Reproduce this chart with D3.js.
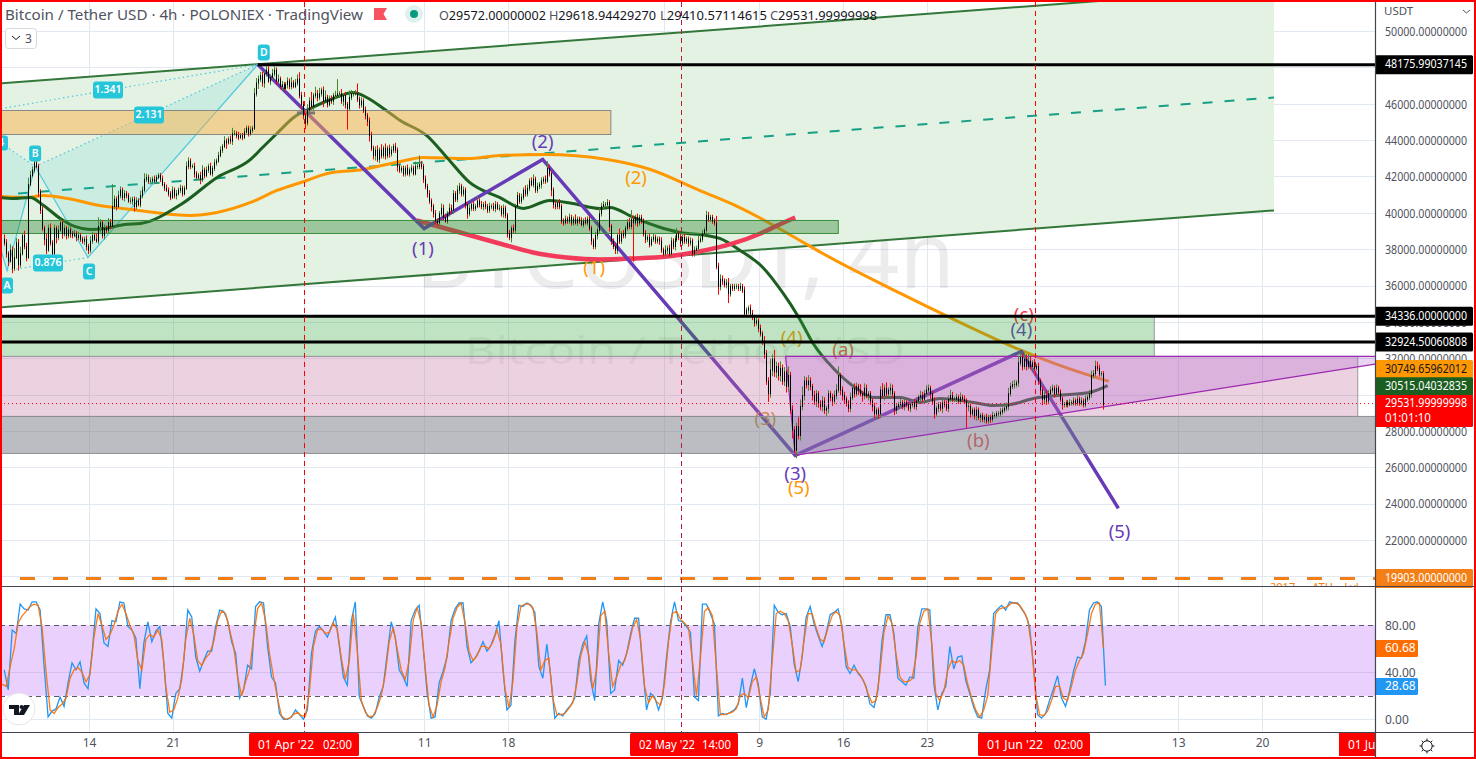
<!DOCTYPE html>
<html><head><meta charset="utf-8">
<script src="https://cdn.jsdelivr.net/npm/d3@7"></script>
<style>html,body{margin:0;padding:0;background:#fff;overflow:hidden}svg{display:block}text{font-family:"Noto Sans","Open Sans",sans-serif}</style>
</head><body><div id="c"></div>
<script>
// ---- candles: closes in hundreds of USDT, wicks in units of 60 USDT, one bar every 4h from 6 Mar 2022 22:00 ----
const closes=[
384,378,374,380,370,376,384,372,378,388,382,376,416,421,424,428,426,412,402,392,386,380,392,384,378,
392,387,391,395,389,392,388,391,389,388,389,387,388,386,385,386,382,380,385,388,386,385,393,395,388,
392,391,395,393,404,408,404,410,413,409,411,410,407,407,408,404,407,405,410,413,419,420,418,418,419,
418,420,421,419,416,414,413,411,409,413,410,411,413,414,411,414,426,429,426,426,422,420,421,419,424,
421,424,426,422,425,428,429,432,435,437,440,439,441,440,444,444,443,442,443,442,445,447,444,446,447,
466,472,474,476,472,477,479,473,475,477,479,473,474,470,471,469,471,473,470,472,470,472,474,465,460,
454,450,457,462,459,465,466,464,466,468,462,464,460,463,462,465,465,466,466,462,465,460,458,464,466,
466,466,463,460,462,457,454,451,443,436,432,435,430,435,432,436,432,436,433,435,437,435,426,424,425,
422,425,422,424,425,422,426,426,427,426,419,415,411,407,404,400,396,395,400,403,398,396,400,403,402,
411,408,413,415,411,413,405,400,403,405,403,404,407,405,404,405,404,402,404,404,403,405,403,403,400,
403,399,389,387,392,391,404,410,407,409,413,411,414,418,416,419,413,415,416,418,419,418,425,422,413,
405,404,406,404,396,395,397,396,398,395,397,395,397,396,394,396,395,397,392,385,382,388,391,400,404,
405,405,406,393,385,382,380,388,385,389,388,392,395,393,397,395,398,395,398,396,389,386,387,383,386,
387,385,386,385,380,378,380,381,378,385,382,386,389,387,384,387,385,386,384,385,378,380,381,385,386,
389,391,399,397,398,396,395,371,360,364,363,361,362,356,360,359,360,360,359,360,358,345,347,348,345,
343,340,341,337,334,330,323,308,301,314,320,313,316,311,315,308,313,305,311,292,281,270,283,278,294,
300,308,306,308,305,300,297,301,296,294,297,292,293,301,299,297,300,303,311,303,300,298,296,293,299,
304,301,305,303,301,300,304,300,301,297,294,290,292,290,303,300,304,301,303,304,301,292,294,295,296,
294,296,295,293,295,296,294,297,299,300,298,301,303,304,301,297,290,293,295,293,296,295,293,298,300,
298,298,299,297,299,298,297,294,294,290,292,289,292,288,289,287,288,286,288,287,289,289,290,290,291,
292,293,294,301,305,306,306,307,318,321,316,320,316,319,316,318,315,316,308,303,298,300,297,301,303,
304,301,304,302,298,295,295,296,295,296,296,297,296,298,296,297,295,298,299,301,311,312,316,315,312,
312,295];
const wickUp=[
4,3,2,5,3,8,4,3,6,2,4,3,6,4,3,2,3,2,2,3,2,5,3,4,2,
3,2,4,3,2,3,2,3,2,2,3,2,3,2,2,2,3,2,4,3,2,5,8,3,2,
3,2,4,3,20,3,2,4,3,2,3,2,2,3,2,2,3,2,4,3,5,3,2,3,2,
3,2,2,2,3,2,3,2,2,3,2,3,2,3,2,2,4,3,2,2,3,2,2,3,4,
2,3,2,3,2,3,2,3,3,2,4,2,2,3,5,3,2,3,2,2,3,2,2,3,2,
5,4,3,3,3,2,3,3,2,4,3,2,4,2,3,2,2,3,2,5,2,3,4,6,3,
3,2,5,3,8,2,6,3,5,2,3,6,2,3,3,2,4,13,2,4,2,3,2,6,3,
2,3,9,2,3,2,3,2,3,3,2,3,4,2,5,2,4,2,3,3,2,3,2,2,2,
2,2,3,2,3,2,4,2,8,3,2,3,2,3,2,2,3,2,2,4,3,3,2,4,3,
3,2,4,3,2,3,2,2,3,2,3,2,4,2,3,2,3,2,3,2,3,3,2,3,2,
3,2,2,3,2,3,2,3,2,3,2,4,3,2,3,4,2,3,2,3,2,3,6,3,2,
2,3,2,3,2,2,3,2,3,2,2,4,2,2,3,2,3,2,3,2,2,3,2,5,3,
3,2,3,2,2,2,3,2,6,2,3,2,3,4,8,3,2,3,2,2,2,3,2,3,2,
3,2,2,2,3,2,4,2,3,3,2,3,5,2,3,2,3,2,2,3,2,3,2,5,3,
3,2,4,3,2,2,2,6,3,4,3,2,3,4,2,2,2,2,2,3,2,3,2,2,3,
3,2,3,2,3,2,4,3,3,10,4,8,4,3,6,3,4,2,8,3,4,3,3,8,6,
8,4,3,5,3,2,4,3,2,2,4,3,2,3,2,3,4,5,8,2,3,3,2,2,4,
3,4,3,2,5,2,4,3,2,2,2,3,2,2,3,6,3,5,2,4,3,2,2,2,3,
2,3,2,2,2,3,3,3,2,4,3,3,4,3,2,2,3,2,2,2,3,2,3,3,5,
3,2,3,2,4,2,3,2,4,2,2,2,3,2,2,2,2,3,2,2,3,2,2,2,3,
2,3,3,5,3,3,4,2,6,4,3,5,4,6,4,2,3,2,3,2,3,3,5,3,3,
3,2,3,2,2,2,2,2,2,3,2,3,2,3,2,3,2,3,2,3,4,3,5,4,3,
2,2];
const wickDown=[
3,4,5,2,5,3,2,6,3,2,3,4,2,2,2,3,2,5,4,3,6,4,2,3,4,
4,6,3,2,5,3,4,3,4,3,2,4,3,3,3,4,4,4,3,3,2,2,3,6,3,
4,3,3,3,2,3,4,2,3,3,4,3,2,3,4,5,3,2,3,3,2,3,3,2,3,
2,3,2,3,2,3,2,3,3,2,3,4,2,3,3,2,2,3,3,2,4,2,3,5,3,
3,2,3,2,3,3,3,2,2,3,2,6,2,3,4,2,3,3,2,3,2,2,3,2,3,
2,3,6,3,4,5,3,2,4,3,3,4,2,3,4,3,2,4,3,3,2,2,3,3,4,
4,6,3,4,3,4,3,4,3,3,6,2,3,2,3,4,3,2,4,3,5,4,20,3,3,
3,2,3,4,3,3,4,5,6,3,4,5,3,4,3,3,4,3,4,3,3,3,5,3,3,
3,3,2,3,3,2,2,3,3,3,4,3,4,3,5,4,3,3,4,3,3,2,3,3,4,
4,3,3,4,3,3,4,5,3,3,3,3,2,3,3,4,3,3,3,3,3,4,2,3,3,
4,3,4,3,5,3,3,2,3,3,3,3,3,3,2,3,3,3,3,4,3,3,2,3,6,
4,3,3,3,3,3,2,3,3,3,3,2,3,3,2,3,2,3,3,4,3,3,4,3,3,
3,3,3,5,4,3,4,4,3,3,3,3,3,3,3,36,3,4,3,3,3,4,3,3,2,
3,3,3,4,3,3,3,4,3,3,3,4,3,3,4,3,3,3,4,3,3,3,3,3,2,
3,3,3,3,3,3,3,3,8,4,4,3,4,9,3,3,3,3,3,3,3,3,3,4,3,
3,4,3,4,3,4,5,4,8,4,6,5,6,5,6,4,5,6,5,4,8,3,8,4,5,
4,5,4,6,4,5,4,6,5,4,5,4,6,5,4,5,3,4,3,5,5,4,4,4,4,
3,4,3,5,3,6,4,3,5,4,5,4,6,5,4,3,5,3,4,5,4,5,4,3,3,
3,4,3,3,4,3,3,4,3,4,3,4,3,3,5,4,5,3,4,3,5,3,3,4,3,
3,3,3,3,3,3,3,20,5,4,3,4,5,3,5,3,4,3,3,4,3,3,3,3,3,
3,3,3,4,3,3,4,3,4,3,4,3,4,3,3,4,3,3,4,5,6,5,4,3,3,
3,4,3,3,3,5,3,3,3,2,3,3,3,3,3,3,3,3,3,3,4,3,3,3,3,
3,5];
const wickUnit=60;
// ---- stochastic RSI, one reading every 8h ----
const stochK=[
42,25,76,73,98,94,93,100,100,93,45,2,7,9,19,11,31,48,42,49,31,26,56,94,90,
65,62,84,83,100,99,79,76,69,26,65,83,66,75,79,48,5,1,22,26,50,93,87,53,41,
50,58,58,79,93,92,84,66,56,18,25,46,43,96,100,99,62,36,31,5,0,0,2,8,4,
0,8,56,75,79,75,70,79,87,62,36,29,84,100,19,11,3,1,5,19,28,56,83,70,42,
36,28,84,93,97,62,22,1,2,31,41,53,84,94,99,99,62,48,52,58,66,58,63,72,84,
42,8,12,67,97,96,99,97,91,45,35,64,36,1,5,3,8,12,18,50,64,71,33,16,81,
100,84,22,25,50,46,56,73,86,86,45,8,22,19,8,18,53,83,100,84,83,79,74,19,16,
98,98,90,81,3,5,4,6,8,13,35,10,28,43,30,2,0,22,97,91,89,90,79,47,32,
53,87,96,81,71,62,73,89,91,94,79,45,39,46,39,35,28,13,10,25,67,89,89,73,35,
32,29,36,35,79,94,94,93,30,8,22,28,62,43,53,54,33,22,10,2,1,25,42,90,94,
97,93,100,99,99,94,89,79,45,4,1,5,16,26,37,18,11,24,41,53,52,66,93,99,100,
96,28.68];
const stochD=[
30,28,45,60,82,88,92,96,98,97,78,40,8,5,10,13,18,35,42,44,40,32,38,70,90,
80,68,72,80,92,98,90,80,72,50,42,68,72,70,76,68,28,6,8,18,34,68,86,72,50,
46,52,56,66,84,92,90,76,62,36,20,32,42,70,94,99,84,56,36,18,3,0,1,4,6,
3,3,24,62,76,77,73,74,82,76,52,34,50,90,58,16,6,2,3,10,20,38,66,78,60,
42,34,50,84,95,82,44,12,2,12,32,44,66,86,95,99,82,58,50,54,62,62,60,66,76,
64,26,10,32,78,96,98,98,95,74,42,50,52,18,4,4,5,9,14,30,54,66,55,26,42,
88,92,56,28,36,46,50,62,78,85,68,28,14,20,15,12,30,66,90,92,85,82,78,50,20,
52,92,95,88,44,4,4,5,6,9,20,22,18,32,36,18,2,8,50,90,92,90,84,64,40,
42,68,90,90,78,68,66,78,88,92,88,64,44,42,42,38,32,22,14,16,40,74,88,82,56,
36,32,32,34,52,82,92,94,64,22,16,24,42,50,48,50,46,30,18,8,2,8,20,58,90,
94,95,96,99,99,97,92,85,62,22,4,3,7,16,28,28,18,16,28,42,50,56,72,90,98,
99,60.68];
// ---- moving averages: days after 14 Mar 2022, price ----
const ma200Days=[-7.4,-5.2,-3.8,-1.8,.9,2.8,4.8,8.4,10.7,13.5,15.7,18.2,19.9,22.9,26,27.9,31.6,34.3,38.1,43.3,46.9,51,53.8,56.6,59.4,61.3,67.8,71.9,77.9,81.1,85.2];
const ma200=[40925,40870,40980,40815,40430,40265,40100,39880,40045,40595,41255,41805,42190,42410,42850,43070,43015,43180,43235,42960,42410,41255,40485,39550,38505,37790,35590,34270,32455,31630,30750];
const ma50Days=[-7.4,-6.4,-4.9,-3.8,-2.4,-1.2,.1,1.3,3,4.3,7.8,10.7,13.5,14.5,15.7,17.1,18.5,20.4,22.1,23.2,24.6,26,28.2,29.9,31.8,34.3,36.3,38.5,40.4,42.7,43.5,45.5,47.5,49.4,51.6,52.7,54.4,56.3,58,59.3,60.5,62.2,64,65.5,67.8,69.4,71.1,73.9,75.5,77,78.9,80.9,83.6,85.1];
const ma50=[40870,40815,40870,40430,39715,39275,39110,39165,39385,39440,40540,41970,42960,43620,44390,45270,45765,46315,46645,46370,45765,45105,44280,43070,41695,40870,40265,40705,40540,40265,40320,39770,39275,38945,38780,38615,37955,37020,35590,34270,32840,31465,30420,29870,29870,29595,29815,29595,29430,29485,29815,29980,30145,30515];
// ---- drawings: [days after 14 Mar 2022, price] ----
const waveMajor=[[14.1,48185],[28,39165],[37.9,42960],[59,26680],[77.9,32400],[86,23765]];
const roundedArc=[[27.4,39605],[34.3,38340],[37.1,37845],[39.9,37570],[42.7,37460],[45.4,37515],[48.3,37625],[51,37900],[53.8,38340],[56.1,38890],[57.5,39330],[59,39770]];
const patX=[-10.7,45380],patA=[-6.85,36855],patB=[-4.5,42575],patC=[-.08,37570],patD=[14.1,48185];
const channelTop=[[-7.44,47140],[99,52400]];
const channelBottom=[[-7.44,34820],[99,40155]];
const channelMid=[[-5.93,41090],[99,46370]];
const triangle=[[58.2,32125],[107.8,32125],[107.8,31740],[59,26680]];
const zones=[
 {d0:-8,d1:43.6,hi:45655,lo:44335,fill:"rgba(253,178,73,.5)",edge:"#888"},
 {d0:-8,d1:62.6,hi:39605,lo:38890,fill:"rgba(50,135,50,.4)",edge:"#388e3c"},
 {d0:-8,d1:89,hi:34325,lo:32125,fill:"rgba(42,162,55,.3)",edge:"#999"},
 {d0:-8,d1:106,hi:32125,lo:28825,fill:"rgba(192,105,152,.3)",edge:"#999"},
 {d0:-8,d1:108,hi:28825,lo:26790,fill:"rgba(119,123,135,.5)",edge:"#8d8f96"}];
const priceTicks=[50000,48000,46000,44000,42000,40000,38000,36000,34000,32000,30000,28000,26000,24000,22000,20000];
const stochTicks=[80,40,0];
const timeTicks=[["2022-03-14","14"],["2022-03-21","21"],["2022-04-11","11"],["2022-04-18","18"],["2022-05-09","9"],["2022-05-16","16"],["2022-05-23","23"],["2022-06-13","13"],["2022-06-20","20"]];
const gridDays=["2022-03-14","2022-03-21","2022-04-01","2022-04-11","2022-04-18","2022-05-01","2022-05-09","2022-05-16","2022-05-23","2022-06-01","2022-06-13","2022-06-20"];
const levels=[[14.1,48175.99],[-8,34336],[-8,32924.5]];
const priceTags=[
 {v:48175.99,s:0,t:"48175.99037145",bg:"#000",fg:"#fff"},{v:34336,s:0,t:"34336.00000000",bg:"#000",fg:"#fff"},
 {v:32924.5,s:0,t:"32924.50060808",bg:"#000",fg:"#fff"},{v:30749.66,s:-12,t:"30749.65962012",bg:"#ff9800",fg:"#131722"},
 {v:30515.04,s:1,t:"30515.04032835",bg:"#1b5e20",fg:"#fff"},{v:19903,s:0,t:"19903.00000000",bg:"#f57f17",fg:"#fff"}];
const waveLabels=[
 ["(1)",27.9,37955,"#673ab7"],["(2)",37.9,43840,"#673ab7"],["(3)",59,25580,"#673ab7"],["(4)",77.9,33500,"#673ab7"],["(5)",86.1,22430,"#673ab7"],
 ["(1)",42.2,36960,"#ff9800"],["(2)",45.7,41900,"#ff9800"],["(3)",56.5,28600,"#d9903a"],["(4)",58.7,33060,"#ff9800"],["(5)",59.3,24830,"#ff9800"],
 ["(a)",63,32400,"#ef5350"],["(b)",74.3,27400,"#ef5350"],["(c)",78.1,34360,"#f23645"]];
const ratioTags=[["1.341",108,90,30],["2.131",149,115,30],["0.876",48,263,30]];
const pointTags=[["A",patA,0,15],["B",patB,0,-13],["C",patC,1,14],["D",patD,6,-12]];

const W=1476,H=759,axX=1375,paneB=586,stB=732;
const base=Date.UTC(2022,2,14);
const day=d=>new Date(base+d*864e5);
const x=d3.scaleUtc().domain([new Date("2022-03-14T00:00Z"),new Date("2022-06-20T00:00Z")]).range([89,1262]);
const y=d3.scaleLinear().domain([50000,22000]).range([31.5,540.5]);
const ys=d3.scaleLinear().domain([0,80]).range([719.3,625.3]);
const firstBar=Date.UTC(2022,2,6,22);
const X=d=>x(day(d));
const svg=d3.select("#c").append("svg").attr("width",W).attr("height",H).attr("viewBox",`0 0 ${W} ${H}`);
const defs=svg.append("defs");
defs.append("clipPath").attr("id","cp").append("rect").attr("x",2).attr("y",2).attr("width",axX-2).attr("height",paneB-2);
defs.append("clipPath").attr("id","cs").append("rect").attr("x",2).attr("y",paneB).attr("width",axX-2).attr("height",stB-paneB);
defs.append("clipPath").attr("id","cred").append("rect").attr("x",1339).attr("y",732).attr("width",36).attr("height",26);
svg.append("rect").attr("width",W).attr("height",H).attr("fill","#fff");
const G=svg.append("g").attr("clip-path","url(#cp)");
const S=svg.append("g").attr("clip-path","url(#cs)");
const GRID="#e1e8ef";
// grid
G.append("g").selectAll("line").data(priceTicks).join("line").attr("x1",0).attr("x2",axX).attr("y1",d=>Math.floor(y(d))+.5).attr("y2",d=>Math.floor(y(d))+.5).attr("stroke",GRID);
[G,S].forEach(g=>g.append("g").selectAll("line").data(gridDays).join("line").attr("x1",d=>Math.round(x(new Date(d+"T00:00Z")))+.5).attr("x2",d=>Math.round(x(new Date(d+"T00:00Z")))+.5).attr("y1",0).attr("y2",stB).attr("stroke",GRID));
// watermark
G.append("text").attr("x",415).attr("y",288).attr("font-size",92).attr("textLength",540).attr("lengthAdjust","spacingAndGlyphs").attr("fill","rgba(0,0,0,.075)").text("BTCUSDT, 4h");
G.append("text").attr("x",465).attr("y",364).attr("font-size",39).attr("textLength",440).attr("lengthAdjust","spacingAndGlyphs").attr("fill","rgba(0,0,0,.075)").text("Bitcoin / Tether USD");
// channel
const lineP=d3.line().x(d=>X(d[0])).y(d=>y(d[1]));
G.append("path").attr("d",lineP([channelTop[0],channelTop[1],channelBottom[1],channelBottom[0]])+"Z").attr("fill","#e3f2e3");
G.append("path").attr("d",lineP(channelTop)).attr("stroke","#33773a").attr("stroke-width",2).attr("fill","none");
G.append("path").attr("d",lineP(channelBottom)).attr("stroke","#33773a").attr("stroke-width",2).attr("fill","none");
G.append("path").attr("d",lineP(channelMid)).attr("stroke","#16a085").attr("stroke-width",2).attr("stroke-dasharray","10 12").attr("fill","none");
// harmonic pattern
const CY="#4fc9e0";
G.append("path").attr("d",lineP([patX,patA,patB])+"Z").attr("fill","rgba(38,198,218,.13)");
G.append("path").attr("d",lineP([patB,patC,patD])+"Z").attr("fill","rgba(38,198,218,.13)");
G.append("path").attr("d",lineP([patX,patA,patB,patC,patD])).attr("fill","none").attr("stroke",CY).attr("stroke-width",1.2);
[[patX,patB],[patX,patD],[patB,patD],[patA,patC]].forEach(s=>G.append("path").attr("d",lineP(s)).attr("fill","none").attr("stroke",CY).attr("stroke-width",1.2).attr("stroke-dasharray","1.5 3"));
// moving averages
const curve=d3.line().x(d=>X(d[0])).y(d=>y(d[1])).curve(d3.curveMonotoneX);
G.append("path").attr("d",curve(d3.zip(ma200Days,ma200))).attr("fill","none").attr("stroke","#ff9800").attr("stroke-width",3);
G.append("path").attr("d",curve(d3.zip(ma50Days,ma50))).attr("fill","none").attr("stroke","#1b5e20").attr("stroke-width",3);
// wave lines and labels
G.append("path").attr("d",curve(roundedArc)).attr("fill","none").attr("stroke","#f23a5a").attr("stroke-width",4.5);
G.append("path").attr("d",lineP(waveMajor)).attr("fill","none").attr("stroke","#673ab7").attr("stroke-width",3.5);
G.append("g").selectAll("text").data(waveLabels).join("text").attr("x",d=>X(d[1])).attr("y",d=>y(d[2])).attr("text-anchor","middle").attr("dominant-baseline","middle").attr("font-size",18.5).attr("fill",d=>d[3]).text(d=>d[0]);
// zones
G.append("g").selectAll("rect").data(zones).join("rect").attr("x",d=>X(d.d0)).attr("width",d=>X(d.d1)-X(d.d0)).attr("y",d=>y(d.hi)).attr("height",d=>y(d.lo)-y(d.hi)).attr("fill",d=>d.fill).attr("stroke",d=>d.edge);
G.append("path").attr("d",lineP(triangle)+"Z").attr("fill","rgba(168,82,208,.25)").attr("stroke","#9c27b0").attr("stroke-width",1.2);
G.append("rect").attr("x",297).attr("y",y(45520)-1.5).attr("width",18).attr("height",3).attr("fill","#777");
// candles
const t=i=>new Date(firstBar+i*4*36e5);
const cg=G.append("g");
closes.forEach((c,i)=>{
 const o=i?closes[i-1]:386, up=c>=o, px=Math.round(x(t(i)))+.5;
 const top=Math.max(o,c)*100, bot=Math.min(o,c)*100;
 cg.append("line").attr("x1",px).attr("x2",px).attr("y1",y(top+wickUp[i]*wickUnit)).attr("y2",y(bot-wickDown[i]*wickUnit)).attr("stroke",up?"#46862c":"#f00");
 cg.append("line").attr("x1",px).attr("x2",px).attr("y1",y(top)).attr("y2",y(bot)+1).attr("stroke","#000");
});
// levels
G.append("g").selectAll("line").data(levels).join("line").attr("x1",d=>X(d[0])).attr("x2",axX).attr("y1",d=>y(d[1])).attr("y2",d=>y(d[1])).attr("stroke","#000").attr("stroke-width",3);
G.append("line").attr("x1",0).attr("x2",axX).attr("y1",y(19903)).attr("y2",y(19903)).attr("stroke","#f57f17").attr("stroke-width",3).attr("stroke-dasharray","15 18").attr("stroke-dashoffset",13);
G.append("text").attr("x",1270).attr("y",591).attr("font-size",11).attr("fill","#f57f17").attr("xml:space","preserve").text("2017      ATH    Lvl");
G.append("line").attr("x1",0).attr("x2",axX).attr("y1",y(29532)).attr("y2",y(29532)).attr("stroke","#f00").attr("stroke-dasharray","1 3");
// harmonic tags
const TAG="#26c6da";
function tag(cx,cy,w,h,txt){const g=G.append("g");g.append("rect").attr("x",cx-w/2).attr("y",cy-h/2).attr("width",w).attr("height",h).attr("rx",3).attr("fill",TAG);
 g.append("text").attr("x",cx).attr("y",cy+.5).attr("text-anchor","middle").attr("dominant-baseline","middle").attr("font-size",10.5).attr("font-weight",600).attr("fill","#fff").text(txt);}
ratioTags.forEach(d=>tag(d[1],d[2],d[3],17,d[0]));
pointTags.forEach(d=>tag(X(d[1][0])+d[2],y(d[1][1])+d[3],12,16,d[0]));
tag(1,143,14,15,"4");
// stochastic
S.append("rect").attr("x",0).attr("width",axX).attr("y",ys(80)).attr("height",ys(20)-ys(80)).attr("fill","#e9d0fd");
S.append("line").attr("x1",0).attr("x2",axX).attr("y1",Math.round(ys(40))+.5).attr("y2",Math.round(ys(40))+.5).attr("stroke","#d6bdf0");
S.append("line").attr("x1",0).attr("x2",axX).attr("y1",Math.round(ys(0))+.5).attr("y2",Math.round(ys(0))+.5).attr("stroke",GRID);
[80,20].forEach(v=>S.append("line").attr("x1",0).attr("x2",axX).attr("y1",Math.round(ys(v))+.5).attr("y2",Math.round(ys(v))+.5).attr("stroke","#5d5667").attr("stroke-dasharray","5 4"));
const sl=d3.line().x((d,i)=>x(t(i*2))).y(d=>ys(d));
const sd=d3.line().x((d,i)=>x(t(i*2-1))).y(d=>ys(d));
S.append("path").attr("d",sl(stochK)).attr("fill","none").attr("stroke","#2196f3").attr("stroke-width",1.3);
S.append("path").attr("d",sd(stochD)).attr("fill","none").attr("stroke","#ff6d00").attr("stroke-width",1.3).attr("opacity",.9);
// dashed session markers
[["2022-04-01T02:00Z","#f00"],["2022-05-02T14:00Z","#b71c3c"],["2022-06-01T02:00Z","#f00"]].forEach(d=>{
 const px=Math.round(x(new Date(d[0])))-.5;
 svg.append("line").attr("x1",px).attr("x2",px).attr("y1",2).attr("y2",stB).attr("stroke",d[1]).attr("stroke-dasharray","5 4");
});
// TV logo
const lg=svg.append("g");
lg.append("circle").attr("cx",19).attr("cy",709).attr("r",16).attr("fill","#fff").attr("stroke","#e6e6e6");
lg.append("path").attr("d","M9 705h10v10h-5v-6h-5zM24 705h6l-6 10h-6z").attr("fill","#131722");
lg.append("circle").attr("cx",21.5).attr("cy",707).attr("r",2).attr("fill","#131722");
// separators
svg.append("rect").attr("x",axX).attr("y",0).attr("width",W-axX).attr("height",H).attr("fill","#fff");
svg.append("rect").attr("x",2).attr("y",732).attr("width",axX).attr("height",26).attr("fill","#fff");
const AX="#50535e";
// axes
const yAxis=svg.append("g").attr("transform",`translate(${axX+6},0)`).call(d3.axisRight(y).tickValues(priceTicks).tickFormat(d3.format(".8f")).tickSize(0).tickPadding(4));
const stAxis=svg.append("g").attr("transform",`translate(${axX+6},0)`).call(d3.axisRight(ys).tickValues(stochTicks).tickFormat(d3.format(".2f")).tickSize(0).tickPadding(4));
const tAxis=svg.append("g").attr("transform",`translate(0,734)`).call(d3.axisBottom(x).tickValues(timeTicks.map(d=>new Date(d[0]+"T00:00Z"))).tickFormat((d,i)=>timeTicks[i][1]).tickSize(0).tickPadding(4));
[yAxis,stAxis,tAxis].forEach(a=>{a.select(".domain").remove();a.selectAll("text").attr("font-size",12).attr("fill",AX).style("font-family",'"Noto Sans"');});
yAxis.selectAll("text").attr("textLength",82).attr("lengthAdjust","spacingAndGlyphs");
svg.append("text").attr("x",1384).attr("y",15).attr("font-size",11.5).attr("fill",AX).text("USDT");
svg.append("path").attr("d","M1463 10l3.5 3 3.5-3").attr("fill","none").attr("stroke",AX);
// price tags
function box(y0,h,w,bg){svg.append("rect").attr("x",axX).attr("y",y0).attr("width",w).attr("height",h).attr("rx",1.5).attr("fill",bg);}
function lab(px,py,txt,fg,len){const e=svg.append("text").attr("x",px).attr("y",py).attr("dominant-baseline","middle").attr("font-size",12).attr("fill",fg).text(txt);if(len)e.attr("textLength",len).attr("lengthAdjust","spacingAndGlyphs");}
priceTags.forEach(d=>{const c=y(d.v)+d.s;box(c-9.5,19,98,d.bg);lab(1385,c+.5,d.t,d.fg,82);});
box(395,32,98,"#f00");lab(1385,404,"29531.99999998","#fff",82);lab(1385,419,"01:01:10","#fff",46);
box(640,17,43,"#ff6d00");lab(1385,649,"60.68","#fff");
box(678,17,43,"#2196f3");lab(1385,687,"28.68","#fff");
// time tags
[[249,110,"01 Apr '22","02:00"],[630,108,"02 May '22","14:00"],[978,112,"01 Jun '22","02:00"]].forEach(d=>{
 svg.append("rect").attr("x",d[0]).attr("y",733).attr("width",d[1]).attr("height",23).attr("rx",1.5).attr("fill","#f00");
 lab(d[0]+9,745.5,d[2],"#fff",56);lab(d[0]+d[1]-36,745.5,d[3],"#fff",29);
});
const cr=svg.append("g").attr("clip-path","url(#cred)");
cr.append("rect").attr("x",1339).attr("y",733).attr("width",60).attr("height",23).attr("fill","#f00");
cr.append("text").attr("x",1348).attr("y",745.5).attr("dominant-baseline","middle").attr("font-size",12).attr("fill","#fff").text("01 Jul '22");
// gear
const gear=svg.append("g").attr("transform","translate(1427,746)");
gear.append("circle").attr("r",5.2).attr("fill","none").attr("stroke","#131722");
d3.range(8).forEach(i=>{const a=i*Math.PI/4;gear.append("line").attr("x1",5*Math.cos(a)).attr("y1",5*Math.sin(a)).attr("x2",7.5*Math.cos(a)).attr("y2",7.5*Math.sin(a)).attr("stroke","#131722");});
// pane borders
const BD="#434651";
svg.append("line").attr("x1",axX+.5).attr("x2",axX+.5).attr("y1",0).attr("y2",H).attr("stroke",BD).attr("stroke-width",1.2);
svg.append("line").attr("x1",0).attr("x2",W).attr("y1",paneB+.5).attr("y2",paneB+.5).attr("stroke",BD);
svg.append("line").attr("x1",0).attr("x2",W).attr("y1",stB+.5).attr("y2",stB+.5).attr("stroke",BD);
// legend
svg.append("text").attr("x",5).attr("y",20).attr("font-size",14.5).attr("fill","#50535e").attr("textLength",358).attr("lengthAdjust","spacingAndGlyphs").text("Bitcoin / Tether USD · 4h · POLONIEX · TradingView");
svg.append("path").attr("d","M374 8h13l-3.5 6 3.5 6h-13z").attr("fill","#f7525f");
svg.append("circle").attr("cx",414).attr("cy",14).attr("r",9).attr("fill","#dff1ee");
svg.append("circle").attr("cx",414).attr("cy",14).attr("r",4).attr("fill","#089981");
[[439,"O","29572.00000002"],[549,"H","29618.94429270"],[660,"L","29410.57114615"],[770,"C","29531.99999998"]].forEach(d=>{
 const e=svg.append("text").attr("x",d[0]).attr("y",20).attr("font-size",12.5).attr("textLength",107).attr("lengthAdjust","spacingAndGlyphs").attr("fill","#131722");
 e.append("tspan").attr("fill","#50535e").text(d[1]);e.append("tspan").text(d[2]);
});
svg.append("rect").attr("x",5.5).attr("y",28.5).attr("width",31).attr("height",20).attr("rx",3).attr("fill","#fff").attr("stroke","#d6d8de");
svg.append("path").attr("d","M12 36l4 3.5 4-3.5").attr("fill","none").attr("stroke","#131722");
svg.append("text").attr("x",25).attr("y",43).attr("font-size",12).attr("fill","#50535e").text("3");
// screenshot frame
[[0,0,W,2],[0,0,2,H],[W-2,0,2,H],[0,H-2,W,2]].forEach(r=>svg.append("rect").attr("x",r[0]).attr("y",r[1]).attr("width",r[2]).attr("height",r[3]).attr("fill","#f00"));
</script></body></html>
